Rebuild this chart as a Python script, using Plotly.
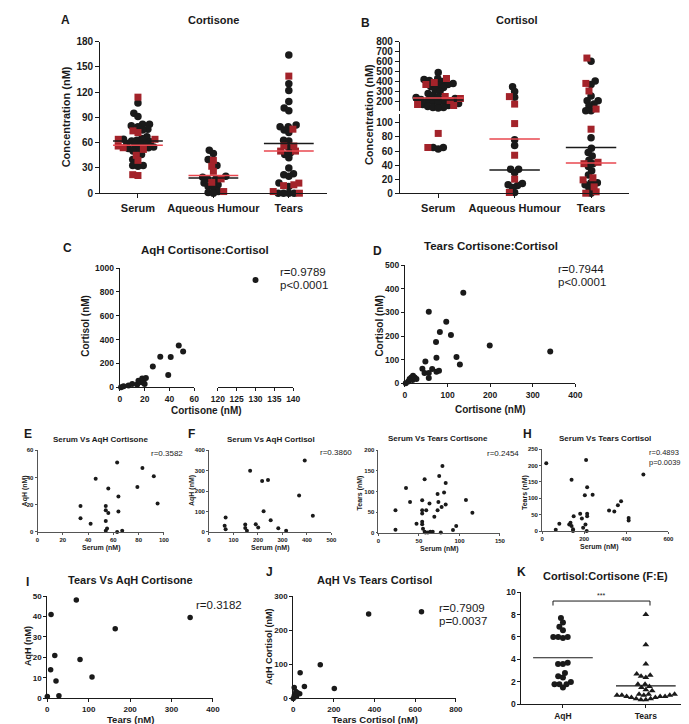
import math
import plotly.graph_objects as go

W, H = 689, 724
FONT = "Liberation Sans, Arial, sans-serif"
INK = "#1a1a1a"
RED = "#a3232a"

# ---- A: cortisone (circles = black group, squares = red group)
A_cats = ["Serum", "Aqueous Humour", "Tears"]
A_circ = [
    [107, 95, 91, 82, 82, 80, 79, 76, 75, 67, 65, 64, 63, 62, 61, 60, 59, 58, 57, 55, 54, 53, 52, 50, 46, 40, 33, 33, 32],
    [51, 47, 40, 33, 20, 19, 17, 17, 12, 10, 8, 7, 2, 1, 0],
    [164, 130, 122, 109, 101, 98, 81, 79, 79, 75, 72, 63, 62, 54, 48, 46, 42, 30, 23, 22, 20, 12, 8, 0, 0, 0, 0],
]
A_sq = [
    [114, 74, 72, 64, 64, 56, 54, 52, 45, 39, 22, 21],
    [39, 32, 26, 17, 13, 2],
    [139, 76, 56, 56, 50, 50, 12, 10, 9, 2, 0],
]
A_line_black = [62, 18, 59]
A_line_red = [57, 21, 50]

# ---- B: cortisol
B_cats = ["Serum", "Aqueous Humour", "Tears"]
B_circ = [
    [490, 430, 420, 410, 400, 380, 370, 360, 350, 340, 320, 300, 280, 260, 250, 240, 230, 220, 210, 200, 200,
     190, 180, 170, 160, 150, 140, 140, 135, 65, 65, 63],
    [348, 299, 243, 76, 68, 34, 34, 29, 14, 12, 11, 8, 1],
    [602, 404, 371, 256, 207, 207, 174, 157, 108, 108, 79, 64, 58, 53, 47, 42, 38, 32, 26, 15, 15, 12, 7, 0],
]
B_sq = [
    [430, 390, 370, 250, 230, 210, 170, 160, 85, 65],
    [249, 174, 99, 54, 20, 1],
    [635, 381, 305, 124, 91, 44, 42, 22, 19, 9, 2, 0],
]
B_line_black = [215, 33, 65]
B_line_red = [235, 77, 43]

# ---- C: AqH cortisone vs cortisol
C_x = [1, 3, 7, 10, 14, 15, 16, 17.5, 18, 19, 20, 21, 26.6, 32.6, 39, 41, 47.5, 51, 130]
C_y = [0, 8, 14, 28, 22, 55, 50, 41, 74, 55, 28, 77, 174, 256, 102, 253, 350, 300, 900]

# ---- D: tears cortisone vs cortisol
D_x = [2, 8, 11, 15, 18, 19, 23, 27, 41, 46, 48, 56, 56, 56, 64, 73, 74, 74, 80, 82, 97, 108, 121, 129, 137, 199, 341]
D_y = [0, 8, 18, 25, 14, 32, 25, 18, 62, 43, 92, 43, 22, 303, 60, 175, 108, 49, 53, 217, 260, 204, 111, 79, 383, 160, 135]

# ---- E-H
E_x = [34, 34, 42, 46, 54, 54, 56, 56, 54, 54, 55, 63, 64, 64, 63, 67, 79, 83, 92, 95]
E_y = [19, 10, 6, 39, 19, 16, 14, 32, 8, 1, 2.5, 51, 26, 15, 0, 1, 33, 47, 41, 21]
F_x = [68, 64, 68, 148, 148, 155, 168, 191, 201, 217, 223, 241, 252, 283, 315, 368, 391, 424]
F_y = [71, 30, 14, 37, 19, 6, 300, 38, 22, 250, 101, 255, 58, 18, 6, 178, 350, 79]
G_x = [21, 21, 34, 39, 47, 54, 54, 54, 54, 54, 55, 57, 58, 61, 59, 63, 64, 67, 69, 77, 74, 73, 78, 75, 79, 81,
       83, 83, 73, 92, 96, 108, 116, 57]
G_y = [55, 8, 109, 75, 22, 79, 55, 47, 27, 21, 10, 3, 1, 1, 55, 71, 3, 3, 39, 1, 75, 55, 63, 138, 162, 98,
       69, 121, 94, 7, 17, 80, 49, 130]
H_x = [20, 65, 82, 129, 135, 140, 147, 147, 150, 140, 181, 189, 195, 203, 206, 209, 214, 214, 214, 212, 240,
       318, 343, 360, 375, 411, 411, 481]
H_y = [207, 4, 22, 20, 25, 15, 5, 0, 45, 157, 53, 38, 10, 109, 20, 217, 134, 45, 53, 0, 111, 63, 60, 79, 91,
       40, 32, 173]

# ---- I, J
I_x = [0, 9, 8, 18, 21, 28, 70, 79, 108, 164, 345]
I_y = [1, 41, 14, 21, 8.5, 1.3, 48, 19, 10.5, 34, 39.5]
J_x = [0, 5, 5, 10, 13, 16, 21, 32, 34, 55, 133, 202, 371, 631]
J_y = [0, 32, 8, 12, 20, 6, 17, 14, 75, 35, 99, 29, 247, 254]

# ---- K: F:E ratio
K_cats = ["AqH", "Tears"]
K_aqh = [7.7, 7.3, 6.9, 6.6, 6.0, 5.9, 6.0, 6.0, 3.7, 3.6, 3.6, 2.8, 2.5, 2.4, 2.0, 1.8, 1.5, 1.8, 1.8]
K_tears = [8.0, 5.3, 3.6, 2.7, 2.6, 2.5, 2.4, 1.8, 1.8, 1.6, 1.5, 1.3, 1.2, 0.9, 0.9, 0.8, 0.8, 0.8, 0.7,
           0.7, 0.7, 0.6, 0.6, 0.5, 0.5, 0.4, 0.4, 0.9, 0.8]
K_mean = [4.15, 1.65]


def xd(a, b):
    return [a / W, b / W]


def yd(top, bottom):
    return [1 - bottom / H, 1 - top / H]


def ax(domain, rng, tickvals, ticktext=None, size=8, anchor=None, lw=1.0, tl=3, col=INK):
    tickvals = list(tickvals)
    return dict(
        domain=domain, range=rng, anchor=anchor, tickmode="array", tickvals=tickvals,
        ticktext=ticktext if ticktext else [str(t) for t in tickvals],
        showline=True, linecolor=col, linewidth=lw, ticks="outside", ticklen=tl, tickwidth=lw,
        tickcolor=col, showgrid=False, zeroline=False, fixedrange=True,
        tickfont=dict(family=FONT, size=size, color=INK, weight="bold"),
    )


def swarm(ypix, d):
    """Deterministic beeswarm: horizontal pixel offsets so markers don't overlap."""
    order = sorted(range(len(ypix)), key=lambda i: ypix[i])
    placed, out = [], [0.0] * len(ypix)
    for i in order:
        y = ypix[i]
        cands = [0.0]
        for px_, py_ in placed:
            dy = abs(py_ - y)
            if dy < d:
                dx = math.sqrt(d * d - dy * dy)
                cands += [px_ + dx, px_ - dx]
        cands.sort(key=lambda c: (round(abs(c), 6), c))
        for c in cands:
            if all((c - px_) ** 2 + (y - py_) ** 2 >= d * d - 1e-6 for px_, py_ in placed):
                break
        placed.append((c, y))
        out[i] = c
    return out


fig = go.Figure()


def dots(xa, ya, x, y, symbol="circle", size=6, color=INK):
    fig.add_trace(go.Scatter(
        x=x, y=y, mode="markers", xaxis=xa, yaxis=ya, cliponaxis=False, hoverinfo="skip",
        marker=dict(symbol=symbol, size=size, color=color, line=dict(width=0)),
    ))


def hline(xa, ya, i, v, color, half=0.33, width=1.5):
    fig.add_trace(go.Scatter(
        x=[i - half, i + half], y=[v, v], mode="lines", xaxis=xa, yaxis=ya, cliponaxis=False,
        hoverinfo="skip", line=dict(color=color, width=width),
    ))


lay = {}
# A
lay["xaxis"] = ax(xd(87, 318), [-0.5, 2.5], [0, 1, 2], A_cats, size=11, anchor="y", lw=1.2, tl=4)
lay["yaxis"] = ax(yd(29, 183), [0, 180], range(0, 181, 30), size=10, anchor="x", lw=1.2, tl=4)
# B (broken y)
lay["xaxis2"] = ax(xd(393, 627), [-0.5, 2.5], [0, 1, 2], B_cats, size=11, anchor="y2", lw=1.2, tl=4)
lay["yaxis2"] = ax(yd(103, 183), [0, 112], range(0, 101, 20), size=10, anchor="x2", lw=1.2, tl=4)
lay["yaxis3"] = ax(yd(29, 100), [100, 800], range(200, 801, 100), size=10, anchor="x2", lw=1.2, tl=4)
# C (broken x)
lay["xaxis3"] = ax(xd(107, 183), [0, 60], range(0, 61, 20), size=8.5, anchor="y4", lw=1.2)
lay["xaxis4"] = ax(xd(207, 284), [120, 140], range(120, 141, 5), size=8.5, anchor="y4", lw=1.2)
lay["yaxis4"] = ax(yd(259, 380), [0, 1000], range(0, 1001, 200), size=8.5, anchor="x3", lw=1.2)
# D
lay["xaxis5"] = ax(xd(398, 572), [0, 400], range(0, 401, 100), size=8.5, anchor="y5", lw=1.2)
lay["yaxis5"] = ax(yd(256, 376), [0, 500], range(0, 501, 100), size=8.5, anchor="x5", lw=1.2)
# E-H
small = dict(size=6, lw=0.8, tl=2, col="#555")
lay["xaxis6"] = ax(xd(23, 152), [0, 100], range(0, 101, 20), anchor="y6", **small)
lay["yaxis6"] = ax(yd(444, 527), [0, 60], range(0, 61, 20), anchor="x6", **small)
lay["xaxis7"] = ax(xd(198, 323), [0, 500], range(0, 501, 100), anchor="y7", **small)
lay["yaxis7"] = ax(yd(444, 527), [0, 400], range(0, 401, 100), anchor="x7", **small)
lay["xaxis8"] = ax(xd(371, 495), [0, 150], range(0, 151, 50), anchor="y8", **small)
lay["yaxis8"] = ax(yd(444, 528), [0, 200], range(0, 201, 50), anchor="x8", **small)
lay["xaxis9"] = ax(xd(538, 667), [0, 600], range(0, 601, 200), anchor="y9", **small)
lay["yaxis9"] = ax(yd(443, 526), [0, 250], range(0, 251, 50), anchor="x9", **small)
# I, J
lay["xaxis10"] = ax(xd(33, 202), [0, 400], range(0, 401, 100), size=8, anchor="y10")
lay["yaxis10"] = ax(yd(592, 696), [0, 50], range(0, 51, 10), size=8, anchor="x10")
lay["xaxis11"] = ax(xd(284, 450), [0, 800], range(0, 801, 200), size=8, anchor="y11")
lay["yaxis11"] = ax(yd(592, 696), [0, 300], range(0, 301, 100), size=8, anchor="x11")
# K
lay["xaxis12"] = ax(xd(517, 682), [-0.5, 1.45], [0, 1], K_cats, size=8.5, anchor="y12")
lay["yaxis12"] = ax(yd(588, 702), [0, 10], range(0, 11, 2), size=8.5, anchor="x12")

# ---- A dots
ppy, ppx = 154 / 180, 231 / 3
for i in range(3):
    vals = A_circ[i] + A_sq[i]
    offs = swarm([v * ppy for v in vals], 5.4)
    xs = [i + o / ppx for o in offs]
    n = len(A_circ[i])
    dots("x", "y", xs[:n], A_circ[i], size=7.5)
    dots("x", "y", xs[n:], A_sq[i], symbol="square", size=7, color=RED)
for i in range(3):
    hline("x", "y", i, A_line_red[i], "#e8474f")
    hline("x", "y", i, A_line_black[i], INK)

# ---- B dots (split over broken axis)
SPLIT = 105


def b_pix(v):
    return v * 80 / 112 if v <= SPLIT else 83 + (v - 100) * 71 / 700


ppx = 234 / 3
for i in range(3):
    vals = B_circ[i] + B_sq[i]
    offs = swarm([b_pix(v) for v in vals], 5.4)
    xs = [i + o / ppx for o in offs]
    n = len(B_circ[i])
    for lo, hi, sym, size, col in [(0, n, "circle", 7.5, INK), (n, len(vals), "square", 7, RED)]:
        for ya, keep in [("y2", lambda v: v <= SPLIT), ("y3", lambda v: v > SPLIT)]:
            sel = [k for k in range(lo, hi) if keep(vals[k])]
            if sel:
                dots("x2", ya, [xs[k] for k in sel], [vals[k] for k in sel], symbol=sym, size=size, color=col)
for i in range(3):
    for v, col in [(B_line_red[i], "#e8474f"), (B_line_black[i], INK)]:
        hline("x2", "y2" if v <= SPLIT else "y3", i, v, col)

# ---- C (broken x)
dots("x3", "y4", [x for x in C_x if x <= 60], [y for x, y in zip(C_x, C_y) if x <= 60], size=6)
dots("x4", "y4", [x for x in C_x if x > 60], [y for x, y in zip(C_x, C_y) if x > 60], size=6)
# ---- D
dots("x5", "y5", D_x, D_y, size=6)
# ---- E-H
dots("x6", "y6", E_x, E_y, size=4)
dots("x7", "y7", F_x, F_y, size=4)
dots("x8", "y8", G_x, G_y, size=4)
dots("x9", "y9", H_x, H_y, size=4)
# ---- I, J
dots("x10", "y10", I_x, I_y, size=5.5)
dots("x11", "y11", J_x, J_y, size=5.5)

# ---- K
ppy, ppx = 11.4, 165 / 1.95
for i, (vals, sym) in enumerate([(K_aqh, "circle"), (K_tears, "triangle-up")]):
    offs = swarm([v * ppy for v in vals], 5.0)
    dots("x12", "y12", [i + o / ppx for o in offs], vals, symbol=sym, size=6)
    hline("x12", "y12", i, K_mean[i], INK, half=0.36, width=1.2)

ann = []


def note(x, y, s, size, bold=True, xanchor="center", angle=0):
    ann.append(dict(
        x=x / W, y=1 - y / H, xref="paper", yref="paper", text=s, showarrow=False,
        xanchor=xanchor, yanchor="middle", textangle=angle, borderpad=0,
        font=dict(family=FONT, size=size, color=INK, weight="bold" if bold else "normal"),
    ))


# panel letters
for s, x, y in [("A", 52, 7), ("B", 358, 10), ("C", 54, 239), ("D", 370, 242), ("E", 13, 427),
                ("F", 180, 427), ("H", 523, 427), ("I", 13, 578), ("J", 260, 568), ("K", 517, 568)]:
    note(x, y, s, 12)

# titles
for s, x, y, sz in [("Cortisone", 203, 7, 11), ("Cortisol", 512, 7, 11),
                    ("AqH Cortisone:Cortisol", 194, 241, 11.5), ("Tears Cortisone:Cortisol", 486, 237, 11.5),
                    ("Serum Vs AqH Cortisone", 87, 433, 8), ("Serum Vs AqH Cortisol", 261, 433, 8),
                    ("Serum Vs Tears Cortisone", 432, 432, 8), ("Serum Vs Tears Cortisol", 602, 432, 8),
                    ("Tears Vs AqH Cortisone", 118, 576, 11), ("AqH Vs Tears Cortisol", 367, 576, 11),
                    ("Cortisol:Cortisone (F:E)", 603, 572, 11)]:
    note(x, y, s, sz)

# y titles
for s, x, y, sz in [("Concentration (nM)", 52, 105, 11), ("Concentration (nM)", 362, 103, 11),
                    ("Cortisol (nM)", 72, 318, 10), ("Cortisol (nM)", 372, 317, 10),
                    ("AqH (nM)", 10, 485, 7), ("AqH (nM)", 180, 485, 7),
                    ("Tears (nM)", 352, 487, 7), ("Tears (nM)", 520, 487, 7),
                    ("AqH (nM)", 13, 643, 9), ("AqH Cortisol (nM)", 259, 643, 9)]:
    note(x, y, s, sz, angle=-90)

# x titles
for s, x, y, sz in [("Cortisone (nM)", 195, 404, 10), ("Cortisone (nM)", 485, 403, 10),
                    ("Serum (nM)", 88, 543, 7), ("Serum (nM)", 261, 543, 7),
                    ("Serum (nM)", 433, 544, 7), ("Serum (nM)", 597, 542, 7),
                    ("Tears (nM)", 118, 717, 9.5), ("Tears Cortisol (nM)", 367, 717, 9.5)]:
    note(x, y, s, sz)

# correlation stats
for s, x, y, sz in [("r=0.9789", 269, 263, 11.5), ("p<0.0001", 269, 276, 11.5),
                    ("r=0.7944", 553, 260, 11.5), ("p<0.0001", 553, 273, 11.5),
                    ("r=0.3582", 138, 447, 8), ("r=0.3860", 310, 446, 8), ("r=0.2454", 481, 447, 8),
                    ("r=0.4893", 646, 446, 7.5), ("p=0.0039", 646, 456, 7.5),
                    ("r=0.3182", 184, 601, 11.5), ("r=0.7909", 432, 604, 11.5), ("p=0.0037", 432, 617, 11.5)]:
    note(x, y, s, sz, bold=False, xanchor="left")

# significance bracket in K
K_sig = dict(x0=-0.12, x1=1.05, top=9.2, foot=8.8)
ann.append(dict(x=(K_sig["x0"] + K_sig["x1"]) / 2, y=K_sig["top"], xref="x12", yref="y12", text="***",
                showarrow=False, yanchor="bottom", font=dict(family=FONT, size=7, color=INK)))
path = "M {x0},{foot} L {x0},{top} L {x1},{top} L {x1},{foot}".format(**K_sig)

fig.update_layout(
    width=W, height=H, margin=dict(l=0, r=0, t=0, b=0), showlegend=False,
    paper_bgcolor="white", plot_bgcolor="white", font=dict(family=FONT, color=INK),
    annotations=ann,
    shapes=[dict(type="path", path=path, xref="x12", yref="y12", line=dict(color=INK, width=1))],
    **lay,
)
fig.write_html("out.html")
